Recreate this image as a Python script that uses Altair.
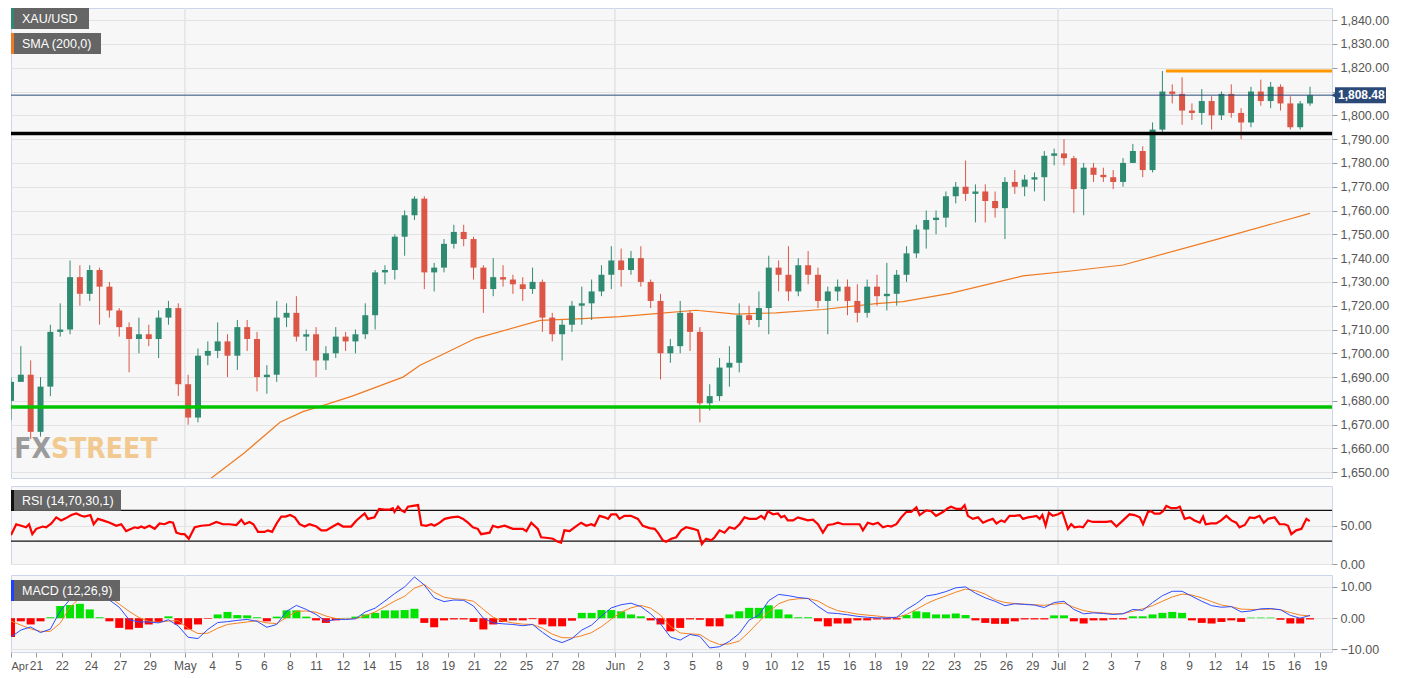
import altair as alt
import pandas as pd

W = 1321
H_MAIN, H_RSI, H_MACD = 470, 78, 77
XDOM = [0, 402.7]

UP, DOWN = "#2f8a72", "#db5646"

# ---- 12h candles (position in 4h-bar units = 3*k) ----
opens = [
    1680, 1688, 1691, 1667, 1686, 1709, 1710, 1732, 1725, 1735,
    1728, 1718, 1711, 1706, 1708, 1706, 1715, 1719, 1687, 1673,
    1699, 1701, 1705, 1699, 1711, 1706, 1690, 1691, 1715, 1717,
    1707, 1708, 1697, 1700, 1707, 1705, 1708, 1716, 1734, 1735,
    1749, 1758, 1765, 1734, 1736, 1746, 1751, 1748, 1736, 1727,
    1732, 1731, 1729, 1727, 1730, 1715, 1708, 1712, 1720, 1721,
    1726, 1733, 1739, 1735, 1740, 1730, 1722, 1700, 1703, 1717,
    1709, 1679, 1682, 1694, 1696, 1716, 1714, 1719, 1736, 1733,
    1726, 1737, 1733, 1722, 1726, 1728, 1722, 1717, 1728, 1724,
    1725, 1733, 1742, 1752, 1756, 1757, 1766, 1770, 1767, 1768,
    1764, 1761, 1772, 1770, 1773, 1774, 1783, 1784, 1782, 1769,
    1778, 1775, 1774, 1772, 1780, 1785, 1777, 1794, 1810, 1809,
    1802, 1801, 1806, 1800, 1809, 1801, 1797, 1810, 1806, 1812,
    1805, 1795, 1805,
]
highs = [
    1690, 1703, 1697, 1690, 1712, 1721, 1739, 1737, 1737, 1736,
    1730, 1719, 1713, 1715, 1712, 1718, 1722, 1721, 1691, 1702,
    1705, 1713, 1708, 1714, 1714, 1709, 1695, 1722, 1721, 1724,
    1710, 1711, 1703, 1711, 1709, 1710, 1721, 1735, 1737, 1750,
    1760, 1766, 1766, 1738, 1748, 1754, 1754, 1749, 1737, 1740,
    1737, 1733, 1732, 1736, 1731, 1717, 1714, 1722, 1728, 1731,
    1737, 1745, 1744, 1743, 1745, 1731, 1725, 1706, 1722, 1718,
    1711, 1687, 1698, 1703, 1721, 1720, 1726, 1741, 1739, 1745,
    1740, 1743, 1736, 1728, 1731, 1731, 1729, 1731, 1733, 1738,
    1735, 1745, 1754, 1760, 1760, 1768, 1772, 1781, 1771, 1771,
    1768, 1774, 1777, 1775, 1776, 1785, 1786, 1790, 1783, 1780,
    1780, 1778, 1777, 1782, 1788, 1787, 1797, 1818.6, 1813, 1816,
    1805, 1811, 1808, 1810, 1813, 1803, 1812, 1815, 1814, 1813,
    1808, 1806, 1812,
]
lows = [
    1672, 1688, 1664, 1665, 1682, 1707, 1708, 1720, 1722, 1712,
    1715, 1707, 1692, 1700, 1703, 1698, 1712, 1682, 1670, 1671,
    1695, 1698, 1690, 1693, 1701, 1684, 1683, 1688, 1711, 1705,
    1701, 1690, 1693, 1698, 1701, 1700, 1706, 1710, 1729, 1731,
    1741, 1756, 1727, 1726, 1734, 1744, 1745, 1731, 1717, 1724,
    1728, 1725, 1722, 1725, 1709, 1705, 1697, 1709, 1712, 1714,
    1724, 1727, 1728, 1733, 1728, 1719, 1689, 1696, 1700, 1701,
    1671, 1676, 1680, 1686, 1692, 1712, 1711, 1708, 1726, 1722,
    1724, 1729, 1719, 1708, 1722, 1716, 1713, 1715, 1720, 1718,
    1720, 1730, 1740, 1744, 1750, 1753, 1763, 1764, 1755, 1755,
    1757, 1748, 1767, 1766, 1768, 1764, 1779, 1779, 1759, 1758,
    1772, 1772, 1769, 1770, 1780, 1774, 1776, 1792, 1805, 1796,
    1798, 1796, 1794, 1798, 1799, 1790, 1795, 1804, 1803, 1802,
    1794, 1794, 1804,
]
closes = [
    1688, 1691, 1667, 1686, 1709, 1710, 1732, 1725, 1735, 1728,
    1718, 1711, 1706, 1708, 1706, 1715, 1719, 1687, 1673, 1699,
    1701, 1705, 1699, 1711, 1706, 1690, 1691, 1715, 1717, 1707,
    1708, 1697, 1700, 1707, 1705, 1708, 1716, 1734, 1735, 1749,
    1758, 1765, 1734, 1736, 1746, 1751, 1748, 1736, 1727, 1732,
    1731, 1729, 1727, 1730, 1715, 1708, 1712, 1720, 1721, 1726,
    1733, 1739, 1735, 1740, 1730, 1722, 1700, 1703, 1717, 1709,
    1679, 1682, 1694, 1696, 1716, 1714, 1719, 1736, 1733, 1726,
    1737, 1733, 1722, 1726, 1728, 1722, 1717, 1728, 1724, 1725,
    1733, 1742, 1752, 1756, 1757, 1766, 1770, 1767, 1768, 1764,
    1761, 1772, 1770, 1773, 1774, 1783, 1784, 1782, 1769, 1778,
    1775, 1774, 1772, 1780, 1785, 1777, 1794, 1810, 1809, 1802,
    1801, 1806, 1800, 1809, 1801, 1797, 1810, 1806, 1812, 1805,
    1795, 1805, 1808.48,
]

# ---- SMA(200) ----
sma_b = [58, 61, 71, 82, 89, 95, 104, 119.5, 124.7, 131.7, 141.7, 161.3, 174.3,
         185.7, 196.6, 208.8, 221, 233.2, 247.5, 263.7, 271.9, 286.3, 308.5,
         323.8, 339, 367.3, 396]
sma_v = [1644, 1647.5, 1658, 1671, 1675.5, 1678, 1682, 1690, 1695, 1699.6, 1706.3,
         1713.8, 1714.6, 1715.4, 1716.7, 1718.1, 1716.5, 1717, 1718.4, 1720.9,
         1721.7, 1725.2, 1732.5, 1734.7, 1737.1, 1747.8, 1758.8]

# ---- RSI ----
rsi_b = [
    0, 1.6, 3.1, 4.6, 5.5, 6.5, 7.7, 9.7, 10.7, 12.3,
    13.8, 15.3, 16.8, 18.4, 19.9, 21.4, 22.4, 24.2, 25.2, 26.5,
    28, 30.1, 32.1, 33.6, 35.1, 36.7, 37.7, 38.7, 39.7, 40.7,
    42.2, 43.8, 45.3, 46.8, 48.3, 49.4, 50.4, 51.9, 52.9, 54.2,
    56, 58, 60.5, 62.6, 64.6, 66.6, 68.7, 70.2, 71.2, 72.7,
    73.9, 75.3, 77.3, 78.3, 79.6, 81.1, 82.4, 83.7, 85.1, 86.5,
    88, 89.5, 91, 93.1, 94.6, 96.1, 98.1, 99.7, 101.2, 103.7,
    105.3, 107.8, 108.8, 110.8, 112.2, 113.9, 115.4, 116.4, 116.9, 118,
    119, 120, 121, 122.5, 124.1, 125.1, 126.6, 128.1, 129.1, 130.7,
    132.2, 134.2, 136.3, 137.8, 139.3, 140.8, 142.3, 143.3, 145.9, 146.9,
    148.4, 150.5, 153, 156, 157.1, 158.6, 160.6, 161.6, 163.7, 165.2,
    166.7, 167.7, 168.7, 170.3, 171.8, 173.8, 175.4, 176.9, 177.9, 179.4,
    181, 182, 183, 184.5, 185.5, 187, 189, 191.1, 192.6, 194.7,
    196.2, 197.2, 198.7, 199.7, 201.3, 202.8, 204.3, 205.8, 207.9, 209.4,
    210.6, 211.9, 213.5, 214.5, 216, 217.5, 219, 220.6, 222.1, 223.6,
    225.1, 227.2, 228.7, 229.7, 230.7, 232.3, 233.8, 234.8, 235.8, 236.8,
    238.4, 239.9, 241.4, 242.9, 244.5, 246, 247.5, 249, 250.6, 252.1,
    253.6, 255.6, 257.7, 258.7, 259.7, 261.2, 262.8, 264.3, 265.8, 267.3,
    268.3, 269.9, 271.4, 272.9, 274.4, 276, 277, 279, 280.5, 282,
    284.1, 285.6, 286.6, 288.2, 289.7, 290.7, 291.7, 293.2, 294.8, 296.3,
    297.8, 299.3, 300.4, 301.9, 302.9, 304.4, 306, 307.5, 308.5, 310,
    311.5, 312.6, 313.6, 314.4, 315.4, 316.4, 317.6, 319.2, 320.5, 322.2,
    323.2, 324.2, 325.8, 326.8, 328.3, 329.8, 331.9, 333.9, 335.4, 337,
    339, 341, 342.5, 344.1, 345.1, 346.6, 347.6, 348.6, 350.2, 351.2,
    352.2, 353.7, 355.2, 356.3, 357.8, 359.3, 360.8, 362.4, 363.4, 364.2,
    365.9, 367.4, 368.9, 370.5, 372, 373.5, 374.5, 376.1, 377.6, 379.1,
    380.6, 381.9, 383.2, 385.2, 386.7, 388.3, 389.3, 390.3, 391.8, 393.4,
    394.9, 395.9,
]
rsi_v = [
    38, 52, 50, 48, 52, 39, 46, 49, 48, 53,
    61, 57, 60, 64, 66, 63, 62, 64, 52, 59,
    57, 54, 50, 52, 43, 46, 48, 47, 49, 47,
    50, 46, 53, 52, 55, 54, 41, 39, 39, 33,
    48, 50, 51, 55, 52, 52, 51, 58, 52, 55,
    52, 42, 42, 44, 42, 54, 62, 62, 64, 61,
    52, 49, 52, 49, 44, 44, 49, 53, 49, 49,
    57, 66, 59, 61, 72, 71, 71, 73, 68, 75,
    70, 68, 75, 76, 77, 51, 50, 52, 50, 54,
    59, 61, 62, 59, 54, 48, 46, 39, 41, 50,
    48, 50, 46, 46, 43, 54, 46, 35, 34, 33,
    29, 28, 44, 43, 48, 54, 50, 52, 50, 63,
    61, 59, 65, 65, 59, 63, 63, 59, 50, 47,
    46, 41, 31, 29, 33, 35, 44, 48, 46, 44,
    26, 33, 31, 35, 44, 41, 48, 46, 52, 61,
    59, 59, 63, 59, 69, 65, 66, 61, 63, 57,
    57, 61, 59, 57, 58, 52, 41, 51, 52, 54,
    52, 52, 52, 52, 44, 54, 52, 54, 48, 50,
    49, 52, 61, 68, 68, 74, 64, 70, 69, 63,
    68, 73, 75, 72, 72, 77, 63, 59, 61, 54,
    57, 59, 53, 57, 55, 63, 63, 64, 59, 61,
    62, 63, 59, 64, 50, 67, 63, 65, 68, 46,
    52, 48, 49, 48, 57, 55, 55, 55, 56, 49,
    57, 65, 64, 61, 52, 68, 69, 66, 66, 69,
    76, 73, 73, 75, 59, 61, 57, 54, 62, 52,
    53, 53, 57, 63, 57, 54, 48, 51, 61, 60,
    63, 54, 59, 61, 52, 52, 50, 39, 44, 46,
    59, 56,
]

# ---- MACD (one value per 12h candle) ----
macd_line = [
    -6.0, -3.8, -2.8, -4.6, -3.5, 2.3, 6.0, 9.2, 8.1, 8.1,
    5.8, 3.5, -0.5, -1.2, -1.2, -1.5, -0.5, -2.5, -6.1, -6.5,
    -3.6, -1.4, -1.1, -0.7, -0.4, -1.0, -2.9, -2.0, 2.2, 4.1,
    2.8, 1.2, -1.0, -0.4, -0.4, -0.2, 2.0, 3.2, 5.5, 7.9,
    10.0, 13.2, 10.6, 6.5, 5.3, 5.8, 5.7, 3.9, 0.0, -1.5,
    -1.8, -2.0, -2.4, -2.0, -4.5, -6.7, -7.8, -6.5, -3.8, -2.2,
    0.7, 3.3, 4.3, 4.8, 3.7, 1.4, -1.8, -6.0, -7.0, -5.2,
    -5.8, -9.5, -9.1, -7.4, -4.9, -0.6, 1.0, 5.6, 7.6, 7.2,
    6.6, 6.3, 3.8, 1.7, 1.5, 1.1, 0.6, 0.3, 0.1, 0.1,
    0.3, 2.8, 4.7, 7.1, 7.6, 8.5, 9.7, 10.0, 8.0, 6.5,
    5.4, 4.0, 4.6, 4.4, 4.2, 3.4, 5.0, 5.4, 2.8, 1.4,
    1.7, 1.5, 1.2, 1.4, 2.8, 2.5, 5.0, 7.2, 8.6, 8.6,
    7.0, 5.4, 4.0, 3.5, 3.7, 2.0, 2.3, 3.0, 3.1, 2.7,
    0.9, 0.0, 0.9,
]
signal_line = [
    -0.9, -2.2, -3.4, -4.2, -4.2, -1.6, 3.5, 6.5, 7.5, 7.8,
    6.8, 4.5, 2.2, 0.2, -1.0, -1.3, -0.9, -0.8, -3.3, -4.9,
    -4.8, -3.2, -2.0, -1.6, -1.2, -0.8, -1.5, -1.7, 0.2, 2.2,
    2.3, 1.9, 0.7, -0.1, -0.3, -0.1, 0.8, 2.0, 3.7, 5.5,
    7.0, 9.6, 10.8, 8.3, 6.7, 6.2, 6.0, 5.4, 2.8, 0.3,
    -0.9, -1.5, -1.9, -2.0, -3.2, -5.1, -6.2, -6.3, -5.6, -4.6,
    -2.7, -0.3, 1.9, 3.3, 4.1, 3.2, 1.0, -2.6, -4.7, -5.0,
    -5.2, -7.2, -8.4, -8.2, -7.3, -4.4, -1.1, 2.0, 4.6, 5.8,
    6.2, 6.3, 5.5, 3.7, 2.4, 1.9, 1.3, 1.0, 0.7, 0.3,
    0.2, 1.2, 2.8, 4.6, 6.0, 7.1, 8.3, 9.3, 8.8, 7.7,
    5.9, 5.0, 4.7, 4.5, 4.3, 4.1, 4.5, 4.8, 3.5, 2.4,
    1.9, 1.7, 1.4, 1.5, 2.2, 3.0, 4.0, 5.4, 6.8, 7.7,
    7.4, 6.5, 5.3, 4.2, 3.7, 2.9, 2.8, 2.8, 2.9, 2.7,
    1.8, 1.0, 0.7,
]
macd_hist = [
    -6.0, -1.0, -2.0, -1.0, 0.3, 3.9, 4.2, 4.6, 2.8, 0.3,
    -1.0, -3.1, -3.6, -3.1, -2.0, -1.2, 0.6, -2.0, -3.6, -2.0,
    -0.2, 1.2, 2.0, 1.0, 0.9, 0.3, -1.0, 0.5, 2.5, 2.5,
    0.5, -0.7, -1.5, -0.7, 0.1, 0.5, 1.2, 1.7, 2.5, 2.5,
    2.6, 3.0, -1.5, -2.9, -0.7, -0.4, -0.4, -1.2, -3.6, -2.0,
    -1.2, -0.7, -0.7, -0.3, -2.0, -2.6, -2.6, -0.8, 1.7, 1.7,
    2.6, 2.6, 2.2, 1.2, 0.6, -0.7, -2.0, -4.2, -3.1, -0.4,
    -0.5, -2.6, -2.6, 1.2, 2.2, 3.3, 3.3, 4.1, 2.8, 1.2,
    0.3, 0.3, -1.0, -2.6, -1.7, -1.7, -0.7, -0.7, -0.4, -0.4,
    -0.4, 1.0, 2.2, 1.9, 1.2, 1.2, 1.5, 1.0, -0.7, -1.5,
    -1.8, -1.8, -1.0, -0.4, -0.4, -0.4, 0.9, 0.9, -1.0, -1.7,
    -0.7, -0.7, -0.4, -0.4, 0.6, 0.6, 1.2, 1.7, 2.0, 1.7,
    -0.7, -1.5, -1.7, -1.2, -0.7, -1.2, 0.2, 0.2, 0.2, -0.5,
    -1.7, -1.7, -0.4,
]

# ---- x-axis ticks (4h-bar units) and labels ----
tick_b = [0, 7.6, 15.5, 24.4, 33.2, 42.3, 53.0, 61.3, 69.2, 77.1, 85.0, 93.0,
          101.2, 109.1, 117.0, 125.3, 133.2, 141.1, 149.1, 157.0, 164.9, 172.8,
          184.1, 191.7, 199.7, 207.6, 215.8, 223.8, 231.7, 239.6, 247.5, 255.5,
          263.4, 271.3, 279.5, 287.5, 295.4, 303.3, 311.3, 319.2, 327.4, 335.3,
          343.3, 351.2, 359.1, 367.0, 375.0, 383.2, 391.1, 399.1]
tick_lab = ["Apr", "21", "22", "24", "27", "29", "May", "4", "5", "6", "8", "11",
            "12", "14", "15", "18", "19", "21", "22", "25", "27", "28",
            "Jun", "2", "3", "5", "8", "9", "10", "12", "15", "16",
            "18", "19", "22", "23", "25", "26", "29", "Jul", "2", "3",
            "7", "8", "9", "12", "14", "15", "16", "19"]
month_b = [53.0, 184.1, 319.2]

# ---- horizontal levels ----
support_level = 1677.4
breakout_level = 1792.35
resistance_level = 1818.6
resistance_start_b = 352.1
last_price = 1808.48

# ----------------------------------------------------------------
n = len(closes)
candles = pd.DataFrame({
    "b": [3 * i for i in range(n)],
    "open": opens, "high": highs, "low": lows, "close": closes,
})
ind = pd.DataFrame({
    "b": [3 * i for i in range(n)],
    "macd": macd_line, "signal": signal_line, "hist": macd_hist,
})
sma_df = pd.DataFrame({"b": sma_b, "v": sma_v})
rsi_df = pd.DataFrame({"b": rsi_b, "v": rsi_v})
month_df = pd.DataFrame({"b": month_b})
dummy = pd.DataFrame({"d": [0]})

xs = alt.Scale(domain=XDOM, nice=False, zero=False, padding=0)
ys_main = alt.Scale(domain=[1647.6, 1845.1], nice=False, zero=False, padding=0)
ys_rsi = alt.Scale(domain=[0, 102], nice=False, zero=False, padding=0)
ys_macd = alt.Scale(domain=[-10.8, 13.8], nice=False, zero=False, padding=0)

GRID = "#e3e3e3"

lab_expr = ("[" + ",".join(f"'{l}'" for l in tick_lab) + "][indexof(["
            + ",".join(repr(v) for v in tick_b) + "], datum.value)]")
x_axis_bottom = alt.Axis(values=tick_b, labelExpr=lab_expr, title=None, grid=False,
                         labelOverlap=False, labelFlush=False,
                         labelAlign=alt.expr("datum.value == 0 ? 'left' : 'center'"),
                         labelFontSize=alt.expr("datum.value == 0 ? 11 : 12"),
                         tickSize=5, labelPadding=3,
                         domainColor="#ccd6eb", tickColor="#9a9a9a")
x_axis_none = alt.Axis(values=tick_b, labels=False, ticks=False, domain=False,
                       grid=False, title=None)

# the 1,810.00 label sits under the last-price tag in the reference
y_main_axis = alt.Axis(orient="right", values=list(range(1650, 1841, 10)),
                       labelExpr="datum.value == 1810 ? '' : format(datum.value, ',.2f')",
                       title=None, grid=True, gridColor=GRID, domain=False)
rsi_axis = alt.Axis(orient="right", values=[0, 50], format=".2f", title=None,
                    grid=True, gridColor=GRID, domain=False)
macd_axis = alt.Axis(orient="right", values=[-10, 0, 10], format=".2f", title=None,
                     grid=True, gridColor=GRID, domain=False)


def X(field, ax):
    return alt.X(field, scale=xs, axis=ax, title=None)


def YM(field):
    return alt.Y(field, scale=ys_main, axis=y_main_axis, title=None)


def YR(field):
    return alt.Y(field, scale=ys_rsi, axis=rsi_axis, title=None)


def YC(field):
    return alt.Y(field, scale=ys_macd, axis=macd_axis, title=None)


def month_rules(ax):
    return alt.Chart(month_df).mark_rule(color=GRID, strokeWidth=1.5).encode(x=X("b:Q", ax))


def badge(text, y0, width, stripe):
    box = alt.Chart(dummy).mark_rect(fill="#5d5d5d", opacity=0.95).encode(
        x=alt.value(0), x2=alt.value(width), y=alt.value(y0), y2=alt.value(y0 + 21))
    bar = alt.Chart(dummy).mark_rect(fill=stripe).encode(
        x=alt.value(0), x2=alt.value(3), y=alt.value(y0), y2=alt.value(y0 + 21))
    txt = alt.Chart(dummy).mark_text(
        text=text, align="left", baseline="middle", color="white", fontSize=12.5
    ).encode(x=alt.value(11), y=alt.value(y0 + 11))
    return box + bar + txt


# ---------------- main price panel ----------------
candle_color = alt.condition("datum.close >= datum.open", alt.value(UP), alt.value(DOWN))

wicks = alt.Chart(candles).mark_rule(strokeWidth=1, clip=True).encode(
    x=X("b:Q", x_axis_none), y=YM("low:Q"), y2="high:Q", color=candle_color)
bodies = alt.Chart(candles).mark_bar(size=6, clip=True).encode(
    x=X("b:Q", x_axis_none), y=YM("open:Q"), y2="close:Q", color=candle_color)
sma = alt.Chart(sma_df).mark_line(color="#f07a22", strokeWidth=1.2, clip=True).encode(
    x=X("b:Q", x_axis_none), y=YM("v:Q"))

lvl = pd.DataFrame({"support": [support_level], "breakout": [breakout_level],
                    "res": [resistance_level], "res_b": [resistance_start_b],
                    "last": [last_price], "label": [f"{last_price:,.2f}"]})
green_line = alt.Chart(lvl).mark_rule(color="#00c400", strokeWidth=3.5).encode(y=YM("support:Q"))
black_line = alt.Chart(lvl).mark_rule(color="#000000", strokeWidth=3.5).encode(y=YM("breakout:Q"))
last_line = alt.Chart(lvl).mark_rule(color="#2c4a78", strokeWidth=1).encode(y=YM("last:Q"))
orange_line = alt.Chart(lvl).mark_rule(color="#ff9800", strokeWidth=3).encode(
    x=X("res_b:Q", x_axis_none), x2=alt.value(W), y=YM("res:Q"))
tag_box = alt.Chart(lvl).mark_rect(color="#2c4a78", yOffset=-8, y2Offset=8).encode(
    x=alt.value(W + 3), x2=alt.value(W + 54), y=YM("last:Q"), y2="last:Q")
tag_arrow = alt.Chart(lvl).mark_point(shape="triangle-left", filled=True, size=40,
                                      color="#2c4a78", opacity=1).encode(
    x=alt.value(W + 2), y=YM("last:Q"))
tag_text = alt.Chart(lvl).mark_text(align="left", baseline="middle", color="white",
                                    fontWeight="bold", fontSize=12).encode(
    x=alt.value(W + 6), y=YM("last:Q"), text="label:N")

wm_font = "DejaVu Sans Condensed, Liberation Sans Narrow, sans-serif"
wm_fx = alt.Chart(dummy).mark_text(text="FX", align="right", baseline="alphabetic",
                                   font=wm_font, fontWeight="bold", fontSize=28,
                                   color="#8c8c8c", opacity=0.85).encode(
    x=alt.value(40), y=alt.value(450))
wm_st = alt.Chart(dummy).mark_text(text="STREET", align="left", baseline="alphabetic",
                                   font=wm_font, fontWeight="bold", fontSize=28,
                                   color="#f2c27f", opacity=0.85).encode(
    x=alt.value(40), y=alt.value(450))

main = alt.layer(
    month_rules(x_axis_none), wm_fx, wm_st, sma, wicks, bodies,
    green_line, black_line, last_line, orange_line,
    tag_box, tag_arrow, tag_text,
    badge("XAU/USD", 0, 78, "#2f8a72"), badge("SMA (200,0)", 25, 90, "#f07a22"),
).properties(width=W, height=H_MAIN)

# ---------------- RSI panel ----------------
rsi_line = alt.Chart(rsi_df).mark_line(color="#ff0000", strokeWidth=2.2, clip=True).encode(
    x=X("b:Q", x_axis_none), y=YR("v:Q"))
rsi_bounds = pd.DataFrame({"lvl": [70, 30]})
rsi_rules = alt.Chart(rsi_bounds).mark_rule(color="#111111", strokeWidth=1.2).encode(
    y=YR("lvl:Q"))
rsi = alt.layer(month_rules(x_axis_none), rsi_rules, rsi_line,
                badge("RSI (14,70,30,1)", 4, 110, "#111111")).properties(width=W, height=H_RSI)

# ---------------- MACD panel ----------------
hist = alt.Chart(ind).mark_bar(size=8, clip=True).encode(
    x=X("b:Q", x_axis_bottom), y=YC("hist:Q"), y2=alt.datum(0),
    color=alt.condition("datum.hist >= 0", alt.value("#00e400"), alt.value("#ff0000")))
macd_l = alt.Chart(ind).mark_line(color="#2f4dff", strokeWidth=1, clip=True).encode(
    x=X("b:Q", x_axis_bottom), y=YC("macd:Q"))
signal_l = alt.Chart(ind).mark_line(color="#f58220", strokeWidth=1, clip=True).encode(
    x=X("b:Q", x_axis_bottom), y=YC("signal:Q"))
macd = alt.layer(month_rules(x_axis_bottom), hist, signal_l, macd_l,
                 badge("MACD (12,26,9)", 5, 109, "#2040ff")).properties(width=W, height=H_MACD)

lower = alt.vconcat(rsi, macd, spacing=11, bounds="flush")
chart = alt.vconcat(main, lower, spacing=8, bounds="flush").properties(
    padding={"left": 0, "top": -2, "right": 4, "bottom": 2}
).configure(
    font="Liberation Sans", background="white"
).configure_view(
    stroke="#ccd6eb", strokeWidth=1, fill="#f7f7f7"
).configure_axis(
    labelColor="#555555", labelFontSize=12.5, tickColor="#9a9a9a", tickSize=5,
    domainColor="#ccd6eb", labelPadding=3
)

chart.save("out.html", embed_options={"renderer": "svg", "actions": False})
